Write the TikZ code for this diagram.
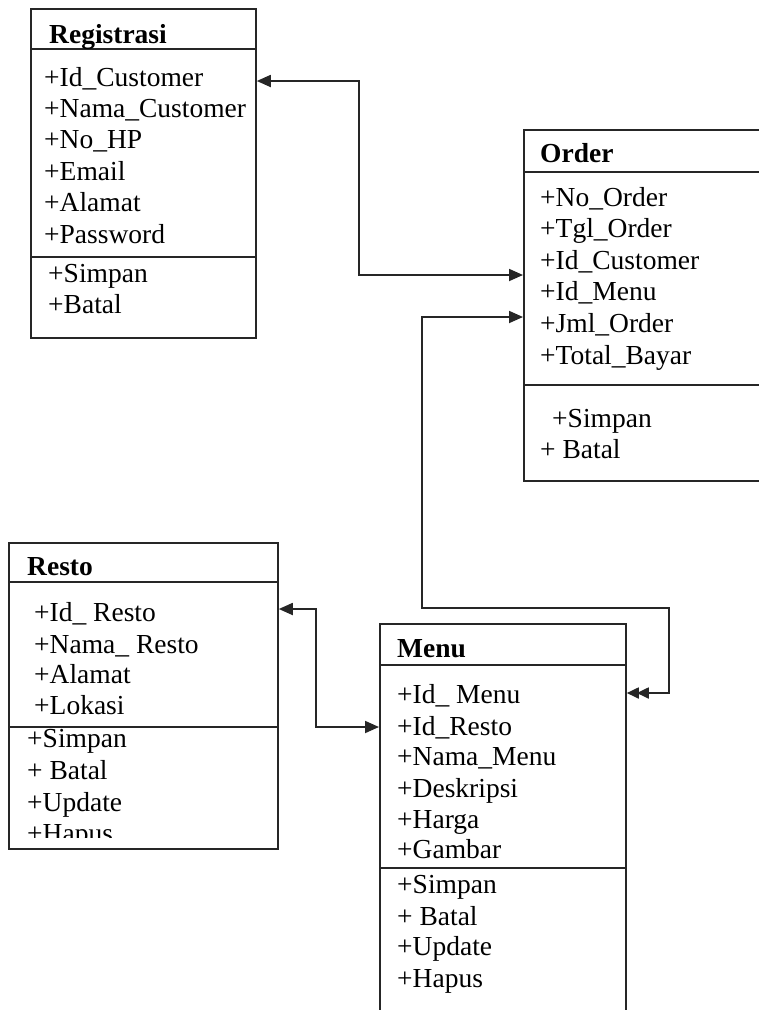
\documentclass[tikz,border=0pt]{standalone}
\usepackage{fontspec}
\setmainfont{Liberation Serif}
\usetikzlibrary{arrows.meta}

\tikzset{
  classbox/.style={draw=black!85, line width=1.8pt, rectangle, inner sep=0pt, anchor=north west},
  divider/.style={draw=black!85, line width=1.8pt},
  member/.style={anchor=base west, inner sep=0pt, font=\fontsize{27.5}{27.5}\selectfont},
  title/.style={anchor=base west, inner sep=0pt, font=\fontsize{27.5}{27.5}\selectfont\bfseries},
  link/.style={draw=black!85, line width=1.8pt},
}

\begin{document}
\begin{tikzpicture}[x=1pt, y=-1pt]
\clip (0,0) rectangle (759,1010);
\fill[white] (0,0) rectangle (759,1010);

% ---------- class boxes ----------
\node[classbox, minimum width=225pt, minimum height=329pt] (reg) at (30,8) {};
\node[classbox, minimum width=260pt, minimum height=351pt] (ord) at (523,129) {};
\node[classbox, minimum width=269pt, minimum height=306pt] (resto) at (8,542) {};
\node[classbox, minimum width=246pt, minimum height=420pt] (menu) at (379,623) {};

% ---------- compartment dividers ----------
\draw[divider] (reg.west |- 0,49) -- (reg.east |- 0,49);
\draw[divider] (reg.west |- 0,257) -- (reg.east |- 0,257);
\draw[divider] (ord.west |- 0,172) -- (ord.east |- 0,172);
\draw[divider] (ord.west |- 0,385) -- (ord.east |- 0,385);
\draw[divider] (resto.west |- 0,582) -- (resto.east |- 0,582);
\draw[divider] (resto.west |- 0,727) -- (resto.east |- 0,727);
\draw[divider] (menu.west |- 0,665) -- (menu.east |- 0,665);
\draw[divider] (menu.west |- 0,868) -- (menu.east |- 0,868);

% ---------- Registrasi ----------
\node[title] (regT) at (49,43) {Registrasi};
\node[member] (reg1) at (44,86) {+Id\_Customer};
\node[member] (reg2) at (44,117.4) {+Nama\_Customer};
\node[member] (reg3) at (44,148.8) {+No\_HP};
\node[member] (reg4) at (44,180.2) {+Email};
\node[member] (reg5) at (44,211.6) {+Alamat};
\node[member] (reg6) at (44,243) {+Password};
\node[member] (reg7) at (48,282) {+Simpan};
\node[member] (reg8) at (48,313) {+Batal};

% ---------- Order ----------
\node[title] (ordT) at (540,162) {Order};
\node[member] (ord1) at (540,206) {+No\_Order};
\node[member] (ord2) at (540,237.6) {+Tgl\_Order};
\node[member] (ord3) at (540,269.2) {+Id\_Customer};
\node[member] (ord4) at (540,300.8) {+Id\_Menu};
\node[member] (ord5) at (540,332.4) {+Jml\_Order};
\node[member] (ord6) at (540,364) {+Total\_Bayar};
\node[member] (ord7) at (552,427) {+Simpan};
\node[member] (ord8) at (540,458) {+ Batal};

% ---------- Resto ----------
\node[title] (restoT) at (27,575) {Resto};
\node[member] (resto1) at (34,621) {+Id\_ Resto};
\node[member] (resto2) at (34,653) {+Nama\_ Resto};
\node[member] (resto3) at (34,683.5) {+Alamat};
\node[member] (resto4) at (34,714) {+Lokasi};
\node[member] (resto5) at (27,747) {+Simpan};
\node[member] (resto6) at (27,779) {+ Batal};
\node[member] (resto7) at (27,811) {+Update};
\begin{scope}
  \clip (8,800) rectangle (277,837);
  \node[member] (resto8) at (27,842) {+Hapus};
\end{scope}

% ---------- Menu ----------
\node[title] (menuT) at (397,657) {Menu};
\node[member] (menu1) at (397,703) {+Id\_ Menu};
\node[member] (menu2) at (397,735) {+Id\_Resto};
\node[member] (menu3) at (397,765.5) {+Nama\_Menu};
\node[member] (menu4) at (397,797) {+Deskripsi};
\node[member] (menu5) at (397,828) {+Harga};
\node[member] (menu6) at (397,858.5) {+Gambar};
\node[member] (menu7) at (397,893) {+Simpan};
\node[member] (menu8) at (397,925) {+ Batal};
\node[member] (menu9) at (397,955.5) {+Update};
\node[member] (menu10) at (397,987) {+Hapus};

% ---------- connectors ----------
\coordinate (c1) at (359,81);
\coordinate (c2) at (359,275);
\draw[link, {Triangle[length=14pt, width=12pt]}-{Triangle[length=14pt, width=12pt]}]
  (reg.east |- c1) -- (c1) -- (c2) -- (ord.west |- c2);

\coordinate (d1) at (422,317);
\coordinate (d2) at (422,608);
\coordinate (d3) at (669,608);
\coordinate (d4) at (669,693);
\draw[link, {Triangle[length=14pt, width=12pt]}-{Triangle[length=12pt, width=11pt, sep=-2pt]Triangle[length=12pt, width=11pt]}]
  (ord.west |- d1) -- (d1) -- (d2) -- (d3) -- (d4) -- (menu.east |- d4);

\coordinate (e1) at (316,609);
\coordinate (e2) at (316,727);
\draw[link, {Triangle[length=14pt, width=12pt]}-{Triangle[length=14pt, width=12pt]}]
  (resto.east |- e1) -- (e1) -- (e2) -- (menu.west |- e2);
\end{tikzpicture}
\end{document}
